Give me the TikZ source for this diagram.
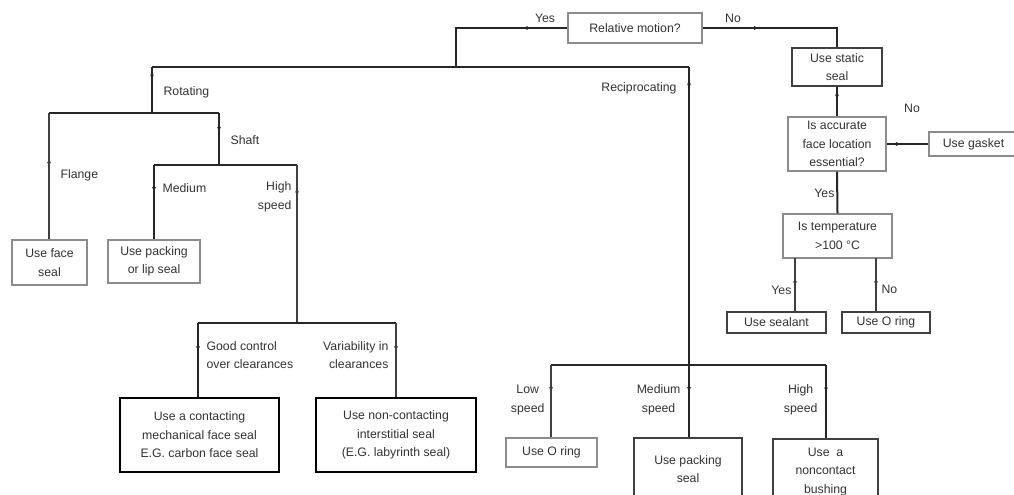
\documentclass[tikz,border=0pt]{standalone}
\usepackage{fontspec}
\setmainfont{Liberation Sans}
\usetikzlibrary{calc,arrows.meta,decorations.markings}
\definecolor{ink}{HTML}{333333}
\definecolor{edge}{HTML}{8C8C8C}
\definecolor{dark}{HTML}{404040}
\newcommand{\flowfont}{\fontsize{9.2}{13.8}\selectfont}
\tikzset{
  % boxes are sized from their corner points
  box/.style={draw=edge, line width=1.1pt, fill=white, inner sep=0pt,
    align=center, font=\flowfont, text=ink},
  boxd/.style={box, draw=dark},
  boxb/.style={box, draw=black, line width=1.8pt},
  link/.style={draw=black!85, line width=1.5pt},
  linkt/.style={draw=dark, line width=.9pt},
  lbl/.style={font=\flowfont, text=ink, inner sep=1pt},
  midarr/.style={postaction={decorate, decoration={markings,
    mark=at position #1 with {\arrow{Latex[length=4pt,width=3pt]}}}}},
}
\newcommand{\sealbox}[5][box]{%
  \path let \p1=(#3), \p2=(#4) in
    node[#1, minimum width=\x2-\x1, minimum height=\y1-\y2]
    (#2) at ($(#3)!.5!(#4)$) {#5};}

\begin{document}
\begin{tikzpicture}[x=.75pt,y=-.75pt]
\clip (0,0) rectangle (1014,495);

% ----- boxes -----
\sealbox{rel}{568,13}{702,43}{Relative motion?}
\sealbox[boxd]{static}{792,48}{882,86}{Use static\\seal}
\sealbox{essential}{788,117}{886,171}{Is accurate\\face location\\essential?}
\sealbox{gasket}{929,132}{1018,156}{Use gasket}
\sealbox{temp}{783,214}{892,258}{Is temperature\\>100 °C}
\sealbox[boxd]{sealant}{727,312}{826,333}{Use sealant}
\sealbox[boxd]{oring}{842,312}{930,333}{Use O ring}

\sealbox{face}{12,240}{87,285}{Use face\\seal}
\sealbox{lip}{108,240}{200,283}{Use packing\\or lip seal}
\sealbox[boxb]{contact}{120,398}{279,472}{Use a contacting\\mechanical face seal\\E.G. carbon face seal}
\sealbox[boxb]{noncontact}{316,398}{476,472}{Use non-contacting\\interstitial seal\\(E.G. labyrinth seal)}

\sealbox{oringb}{506,438}{597,467}{Use O ring}
\sealbox[boxd]{packseal}{634,438}{742,500}{Use packing\\seal}
\sealbox[boxd]{bushing}{773,439}{878,505}{Use\ \ a\\noncontact\\bushing}

% ----- junctions -----
\coordinate (motion) at (456,67);
\coordinate (rotj) at (152,67);
\coordinate (recj) at (689,67);
\coordinate (rotsplit) at (152,113);
\coordinate (flangej) at (49,113);
\coordinate (shaftj) at (219,113);
\coordinate (medj) at (154,165);
\coordinate (highj) at (297,165);
\coordinate (goodj) at (198,323);
\coordinate (varj) at (396,323);
\coordinate (recsplit) at (689,365);
\coordinate (lowj) at (551,365);
\coordinate (highbj) at (826,365);
\coordinate (tyes) at (795,258);
\coordinate (tno) at (876,258);

% ----- connectors -----
\draw[link, midarr=.3] (rel.west) -| (motion);
\draw[link] (rotj) -- (recj);
\draw[link, midarr=.28] (rotj) -- (rotsplit);
\draw[link] (flangej) -- (shaftj);
\draw[linkt, midarr=.43] (flangej) -- (flangej |- face.north);
\draw[link, midarr=.37] (shaftj) -- (shaftj |- medj);
\draw[link] (medj) -- (highj);
\draw[link, midarr=.37] (medj) -- (medj |- lip.north);
\draw[linkt, midarr=.2] (highj) -- (highj |- goodj);
\draw[link] (goodj) -- (varj);
\draw[link, midarr=.39] (goodj) -- (goodj |- contact.north);
\draw[linkt, midarr=.39] (varj) -- (varj |- noncontact.north);

\draw[link, midarr=.074] (recj) -- (recsplit);
\draw[link] (lowj) -- (highbj);
\draw[linkt, midarr=.38] (lowj) -- (lowj |- oringb.north);
\draw[link, midarr=.38] (recsplit) -- (recsplit |- packseal.north);
\draw[link, midarr=.38] (highbj) -- (highbj |- bushing.north);

\draw[link, midarr=.37] (rel.east) -| (static.north);
\draw[link, midarr=.45] (static.south) -- (essential.north);
\draw[link, midarr=.35] (essential.east) -- (gasket.west);
\draw[link] (essential.south) -- (temp.north);
\draw[linkt, midarr=.54] (tyes) -- (tyes |- sealant.north);
\draw[linkt, midarr=.54] (tno) -- (tno |- oring.north);

% ----- labels -----
\node[lbl] (yestop) at (545,18) {Yes};
\node[lbl] (notop) at (733,18) {No};
\node[lbl, anchor=west] (rotating) at (162,92) {Rotating};
\node[lbl, anchor=east] (reciprocating) at (678,88) {Reciprocating};
\node[lbl, anchor=west] (shaft) at (229,140) {Shaft};
\node[lbl, anchor=west] (flange) at (59,175) {Flange};
\node[lbl, anchor=west] (medium) at (161,188) {Medium};
\node[lbl, anchor=east, align=right] (highspeed) at (293,197) {High\\speed};
\node[lbl, anchor=west, align=left] (good) at (205,355) {Good control\\over clearances};
\node[lbl, anchor=east, align=right] (variab) at (390,355) {Variability in\\clearances};
\node[lbl, anchor=east, align=center] (low) at (546,400) {Low\\speed};
\node[lbl, anchor=east, align=center] (medspeed) at (682,400) {Medium\\speed};
\node[lbl, anchor=east, align=center] (highb) at (819,400) {High\\speed};
\node[lbl] (nogasket) at (912,108) {No};
\node[lbl, anchor=east] (yesess) at (836,193) {Yes};
\node[lbl, anchor=east] (yestemp) at (793,290) {Yes};
\node[lbl, anchor=west] (notemp) at (880,289) {No};

\end{tikzpicture}
\end{document}
